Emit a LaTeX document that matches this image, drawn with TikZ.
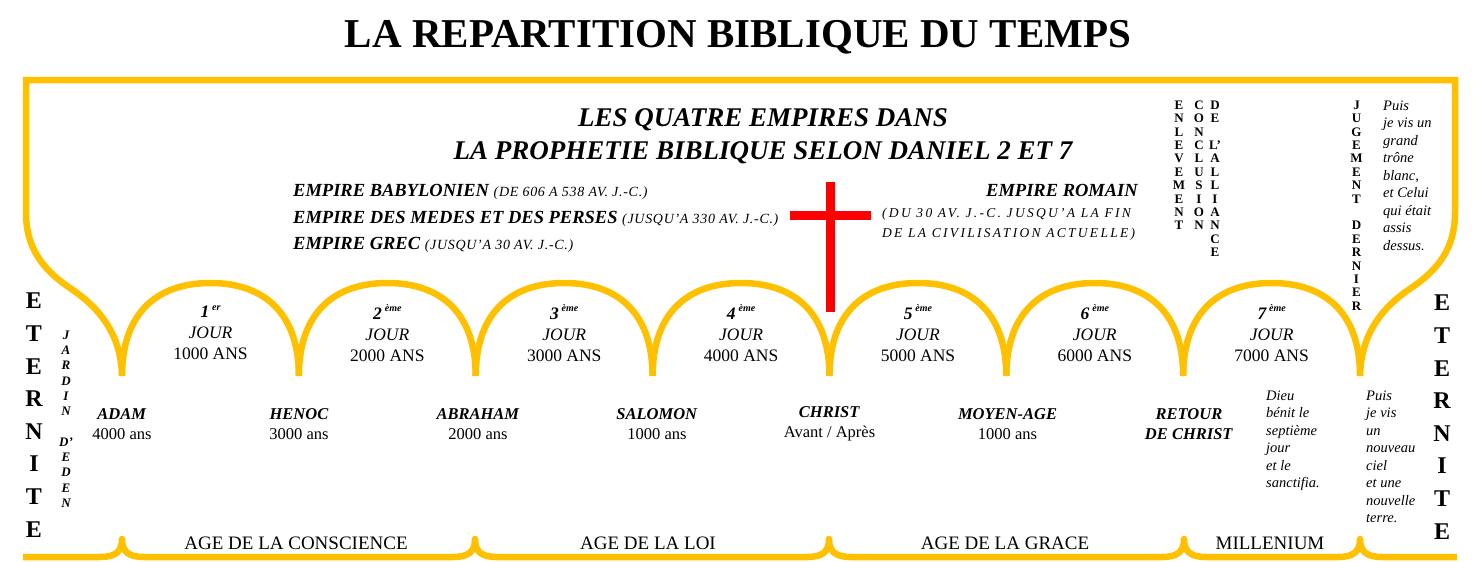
\documentclass[tikz,border=0pt]{standalone}
\usepackage{fontspec}
\setmainfont{Liberation Serif}
\usetikzlibrary{positioning}
\definecolor{Gold}{HTML}{FFC000}
\definecolor{CrossRed}{HTML}{FF0000}
\newcommand{\fsz}[2]{\fontsize{#1}{#2}\selectfont}
\newcommand{\jour}[2]{{\bfseries\itshape #1}\,\raisebox{0.42em}{\fsz{10}{10}\bfseries\itshape #2}}
\newcommand{\paren}[1]{{\fsz{14}{14}\mdseries\addfontfeature{LetterSpace=5}#1}}

\begin{document}
\begin{tikzpicture}[x=1pt, y=-1pt,
    frame/.style={draw=Gold, line width=6.5pt},
    crossbar/.style={draw=CrossRed, line width=9pt},
    daylbl/.style={align=center, font=\fsz{17.5}{21}, inner sep=0pt},
    who/.style={align=center, font=\fsz{16.5}{20}, inner sep=0pt},
    era/.style={anchor=base, font=\fsz{19}{19}, inner sep=0pt},
    empire/.style={anchor=base west, font=\fsz{18.5}{18.5}\bfseries\itshape, inner sep=0pt},
    vlet/.style={anchor=north, align=center, font=\fsz{13}{13.4}\bfseries, inner sep=0pt},
    bigvlet/.style={anchor=north, align=center, font=\fsz{24}{32.6}\bfseries, inner sep=0pt},
    verse/.style={anchor=north west, align=left, font=\fsz{14.5}{17.5}\itshape, inner sep=0pt}
  ]
    \useasboundingbox (0,0) rectangle (1475,562);

    % frame, arches and baseline
    \draw[frame] (122,376) .. controls (121,330) and (95,305) .. (70,288)
      .. controls (40,268) and (26,245) .. (26,213) -- (26,80) -- (1455,80) -- (1455,213)
      .. controls (1455,245) and (1441,268) .. (1411,288)
      .. controls (1386,305) and (1361,330) .. (1360,376);
    \foreach \i in {0,...,6}
      \draw[frame] ({122+176.86*\i},376) .. controls +(0,-61) and +(-55.5,0) .. ++(88.43,-93)
        .. controls +(55.5,0) and +(0,-61) .. ++(88.43,93);
    \draw[frame, line join=round] (23,557)
      \foreach \b in {122,475,829,1184,1360} {
        -- (\b-22,557) .. controls (\b-7,557) and (\b,552) .. (\b,539)
        .. controls (\b,552) and (\b+7,557) .. (\b+22,557) } -- (1457,557);

    % cross
    \draw[crossbar] (830,182) -- (830,312);
    \draw[crossbar] (790,215) -- (871,215);

    % titles
    \node[font=\fsz{41}{41}\bfseries, anchor=base] (title) at (738,47) {LA REPARTITION BIBLIQUE DU TEMPS};
    \node[font=\fsz{27}{27}\bfseries\itshape, anchor=base] (sub1) at (763,126) {LES QUATRE EMPIRES DANS};
    \node[font=\fsz{27}{27}\bfseries\itshape, anchor=base] (sub2) at (763,159) {LA PROPHETIE BIBLIQUE SELON DANIEL 2 ET 7};

    \node[empire] (babel) at (293,196) {EMPIRE BABYLONIEN \paren{(DE 606 A 538 AV. J.-C.)}};
    \node[empire] (perse) at (293,223) {EMPIRE DES MEDES ET DES PERSES \paren{(JUSQU'A 330 AV. J.-C.)}};
    \node[empire] (grec) at (293,249) {EMPIRE GREC \paren{(JUSQU'A 30 AV. J.-C.)}};
    \node[empire, anchor=base east] (rome) at (1138,196) {EMPIRE ROMAIN};
    \node[anchor=north west, align=left, inner sep=0pt,
          font=\fsz{13.5}{20}\itshape\addfontfeature{LetterSpace=17}] (romedate) at (882,208)
      {(DU 30 AV. J.-C. JUSQU'A LA FIN\\DE LA CIVILISATION ACTUELLE)};

    % stacked words
    \node[bigvlet] (etleft) at (34,293) {E\\T\\E\\R\\N\\I\\T\\E};
    \node[bigvlet] (etright) at (1442,295) {E\\T\\E\\R\\N\\I\\T\\E};
    \node[vlet, font=\fsz{13}{15.3}\bfseries\itshape] (eden) at (66,330.5) {J\\A\\R\\D\\I\\N\\ \\D'\\E\\D\\E\\N};
    \node[vlet] (enlev) at (1179,100.5) {E\\N\\L\\E\\V\\E\\M\\E\\N\\T};
    \node[vlet] (concl) at (1199,100.5) {C\\O\\N\\C\\L\\U\\S\\I\\O\\N};
    \node[vlet] (allia) at (1215,100.5) {D\\E\\ \\L'\\A\\L\\L\\I\\A\\N\\C\\E};
    \node[vlet] (juge) at (1356.5,100.5) {J\\U\\G\\E\\M\\E\\N\\T\\ \\D\\E\\R\\N\\I\\E\\R};

    \node[verse] (trone) at (1383,100.5) {Puis\\je vis un\\grand\\trône\\blanc,\\et Celui\\qui était\\assis\\dessus.};
    \node[verse] (sabbat) at (1266,390.5) {Dieu\\bénit le\\septième\\jour\\et le\\sanctifia.};
    \node[verse] (ciel) at (1366,390.5) {Puis\\je vis\\un\\nouveau\\ciel\\et une\\nouvelle\\terre.};

    % days
    \foreach \n/\s [count=\k from 0] in {1/er,2/ème,3/ème,4/ème,5/ème,6/ème,7/ème}
      \node[daylbl] (day\n) at ({210.5+176.86*\k},333) {\jour{\n}{\s}\\\textit{JOUR}\\\n000 ANS};

    % people
    \node[who] (adam) at (122,424) {\textbf{\textit{ADAM}}\\4000 ans};
    \node[who] (henoc) at (299,424) {\textbf{\textit{HENOC}}\\3000 ans};
    \node[who] (abraham) at (478,424) {\textbf{\textit{ABRAHAM}}\\2000 ans};
    \node[who] (salomon) at (657,424) {\textbf{\textit{SALOMON}}\\1000 ans};
    \node[who] (christ) at (829.5,424) {\textbf{\textit{CHRIST}}\\Avant / Après};
    \node[who] (moyen) at (1007.5,424) {\textbf{\textit{MOYEN-AGE}}\\1000 ans};
    \node[who] (retour) at (1189,424) {\textbf{\textit{RETOUR}}\\\textbf{\textit{DE CHRIST}}};

    % ages
    \node[era] (conscience) at (296,549) {AGE DE LA CONSCIENCE};
    \node[era] (loi) at (648,549) {AGE DE LA LOI};
    \node[era] (grace) at (1005,549) {AGE DE LA GRACE};
    \node[era] (millen) at (1270,549) {MILLENIUM};
  \end{tikzpicture}
\end{document}
